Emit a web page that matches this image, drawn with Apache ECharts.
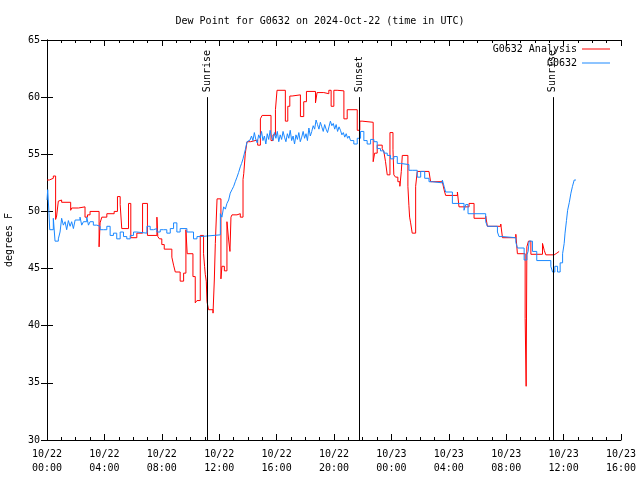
<!DOCTYPE html>
<html><head><meta charset="utf-8">
<script src="https://cdn.jsdelivr.net/npm/echarts@6/dist/echarts.min.js"></script>
<style>html,body{margin:0;padding:0;background:#fff}#c{width:640px;height:480px}</style>
</head><body><div id="c"></div>
<script>
// hours since 2024-10-22 00:00 UTC
const redT = [0.00,0.16,0.44,0.60,0.67,0.79,0.91,1.02,1.65,1.72,2.19,2.65,2.82,3.00,3.63,3.70,3.82,4.17,4.68,4.91,5.10,5.21,5.68,5.84,6.26,6.66,7.00,7.66,7.72,7.84,8.00,8.17,8.70,8.82,8.94,9.28,9.52,9.68,9.77,10.17,10.33,10.45,10.68,10.91,10.98,11.03,11.10,11.15,11.26,11.57,11.66,11.73,11.85,12.12,12.19,12.36,12.54,12.66,12.75,12.82,12.89,13.24,13.47,13.66,13.71,13.82,13.94,14.17,14.68,14.87,14.99,15.61,15.75,15.92,16.03,16.61,16.78,16.92,17.08,17.66,17.89,18.08,18.71,18.82,19.29,19.64,19.80,19.99,20.22,20.69,20.92,21.62,21.80,21.96,22.73,22.83,23.01,23.36,23.48,23.59,23.71,23.90,24.11,24.17,24.29,24.45,24.59,24.69,24.76,25.15,25.22,25.27,25.34,25.45,25.69,25.80,26.62,26.73,27.55,27.67,27.78,28.60,28.71,29.41,29.76,30.57,30.69,31.62,31.74,32.67,32.78,33.32,33.39,33.44,33.55,33.72,34.53,34.65,34.76,35.34,35.53,35.69];
const redV = [52.75,52.9,53.1,49.3,49.6,50.9,51.0,50.8,50.1,50.3,50.4,49.5,49.7,50.0,46.9,49.0,49.5,49.8,50.0,51.3,50.6,48.5,50.7,47.7,48.1,50.7,47.9,49.5,47.8,47.6,47.1,46.7,46.0,45.3,44.7,43.9,44.6,48.4,46.3,44.3,42.0,42.2,47.9,46.3,45.2,44.5,43.9,42.1,41.4,41.1,44.0,47.2,51.1,44.1,45.2,44.8,49.1,47.5,46.5,49.5,49.7,49.8,49.5,52.8,53.3,55.1,56.1,56.25,55.8,58.1,58.4,56.2,56.7,58.9,60.6,57.9,59.2,60.1,60.2,58.3,59.6,60.5,59.5,60.4,60.3,60.6,59.2,60.6,60.55,58.1,58.9,57.1,57.9,57.8,54.35,55.1,55.8,55.5,55.2,54.35,53.2,56.9,55.4,53.2,53.0,52.6,52.2,53.5,54.9,52.2,50.5,49.5,49.0,48.1,52.2,53.5,53.6,52.6,52.75,51.9,51.4,51.7,50.4,50.7,49.4,49.6,48.7,48.9,47.7,48.0,46.3,40.65,34.7,46.9,47.4,46.25,47.2,46.6,46.2,46.35,46.5,46.5];
const blueT = [0.00,0.05,0.14,0.19,0.44,0.56,0.79,0.91,1.02,1.14,1.26,1.37,1.49,1.61,1.72,1.84,1.96,2.30,2.42,2.54,2.77,2.89,3.00,3.23,3.47,3.70,3.93,4.17,4.40,4.63,4.86,5.10,5.33,5.56,5.80,6.03,6.26,6.96,7.19,7.42,7.66,7.89,8.12,8.35,8.59,8.82,9.05,9.28,9.75,10.21,10.45,10.68,11.15,12.08,12.19,12.31,12.43,12.54,12.66,12.77,12.89,13.01,13.12,13.24,13.35,13.47,13.56,13.66,13.74,13.82,13.94,14.05,14.15,14.25,14.35,14.45,14.55,14.65,14.75,14.85,14.95,15.05,15.15,15.25,15.35,15.45,15.55,15.65,15.75,15.85,15.95,16.05,16.15,16.25,16.35,16.45,16.55,16.65,16.75,16.85,16.95,17.05,17.15,17.25,17.35,17.45,17.55,17.65,17.75,17.85,17.95,18.05,18.15,18.25,18.35,18.45,18.55,18.65,18.75,18.85,18.95,19.05,19.15,19.25,19.35,19.45,19.55,19.65,19.75,19.85,19.95,20.05,20.15,20.25,20.35,20.45,20.55,20.65,20.75,20.85,20.95,21.05,21.15,21.38,21.62,21.85,22.08,22.31,22.55,22.78,23.01,23.24,23.48,23.71,23.94,24.17,24.41,24.64,25.22,25.45,25.80,26.04,26.32,26.62,26.85,27.55,27.67,27.78,28.25,29.06,29.18,29.34,30.57,30.69,31.39,31.50,31.74,32.67,32.78,33.25,33.44,33.53,33.60,33.83,34.13,35.11,35.23,35.39,35.58,35.76,35.93,36.04,36.10,36.20,36.28,36.40,36.51,36.62,36.74,36.86];
const blueV = [51.0,51.9,49.8,48.4,49.4,47.4,47.6,48.2,49.4,48.8,49.1,48.4,49.2,48.7,49.1,48.5,49.25,49.5,48.8,49.1,49.5,48.8,49.1,48.8,48.7,48.4,48.4,48.7,47.9,48.1,47.6,48.2,47.8,47.6,47.9,48.2,48.1,48.7,48.4,48.5,48.2,48.4,48.4,48.1,48.5,49.0,48.2,48.5,48.2,47.6,47.8,47.85,47.95,49.8,49.5,50.4,50.2,50.7,51.0,51.6,51.9,52.2,52.6,53.0,53.4,53.9,54.2,54.6,55.0,55.4,56.1,56.25,56.1,56.6,56.2,56.9,56.3,56.0,56.7,56.4,57.0,56.2,56.6,55.9,56.8,56.3,57.1,56.5,56.2,56.9,56.4,57.0,56.1,56.7,56.3,57.0,56.5,56.1,56.8,56.4,57.1,56.2,56.6,55.9,56.7,56.3,56.9,56.1,56.5,57.0,56.4,56.8,56.2,57.3,56.6,57.0,57.5,57.2,58.0,57.6,57.2,57.8,57.4,57.0,57.6,57.2,56.9,57.4,57.9,57.5,57.7,57.2,57.6,57.0,57.4,57.1,56.7,56.9,56.5,56.8,56.4,56.6,56.2,55.9,56.4,57.0,56.2,55.9,56.3,56.1,55.5,55.3,55.1,54.9,54.6,54.8,54.2,54.1,53.6,53.6,53.0,53.5,52.9,52.6,52.5,52.75,52.2,51.7,50.7,50.1,50.6,49.8,49.1,48.7,48.2,47.8,47.7,47.3,46.8,45.75,46.2,46.5,47.4,46.5,45.7,45.2,44.7,45.2,44.7,45.5,46.3,47.2,48.1,49.2,50.1,50.8,51.6,52.2,52.75,52.75];
const eventT = [11.17, 21.78, 35.25];
const eventLabels = ['Sunrise', 'Sunset', 'Sunrise'];
const eventTop = 60;
const dayLabels = ['10/22', '10/23'];
const seriesNames = ['G0632 Analysis', 'G0632'];

const FONT = 'DejaVu Sans Mono';
const zip = (a, b) => a.map((t, i) => [t, b[i]]);
const xFmt = v => {
  const d = Math.floor(v / 24 + 1e-9);
  const h = Math.round(v - d * 24);
  return dayLabels[d] + '\n' + String(h).padStart(2, '0') + ':00';
};
const chart = echarts.init(document.getElementById('c'), null, {renderer: 'canvas'});
const axisCommon = {
  axisLine: {show: true, lineStyle: {color: '#000', width: 1}},
  axisTick: {show: true, inside: true, length: 6, lineStyle: {color: '#000'}},
  splitLine: {show: false}
};
chart.setOption({
  animation: false,
  backgroundColor: '#fff',
  textStyle: {fontFamily: FONT},
  title: {text: 'Dew Point for G0632 on 2024-Oct-22 (time in UTC)', left: 'center', top: 11,
    textStyle: {fontFamily: FONT, fontSize: 10, fontWeight: 'normal', color: '#000'}},
  legend: [
    {data: [seriesNames[0]], right: 25, top: 39, orient: 'vertical', align: 'right', icon: 'rect', itemWidth: 28, itemHeight: 1, itemGap: 4,
      textStyle: {fontFamily: FONT, fontSize: 10, color: '#000'}},
    {data: [seriesNames[1]], right: 25, top: 53, orient: 'vertical', align: 'right', icon: 'rect', itemWidth: 28, itemHeight: 1, itemGap: 4,
      textStyle: {fontFamily: FONT, fontSize: 10, color: '#000'}}
  ],
  grid: {left: 47, right: 19, top: 40, bottom: 40, containLabel: false, outerBoundsMode: 'none'},
  xAxis: [
    Object.assign({type: 'value', min: 0, max: 40, interval: 4, position: 'bottom',
      minorTick: {show: true, splitNumber: 4, length: 3, lineStyle: {color: '#000'}},
      axisLabel: {formatter: xFmt, fontFamily: FONT, fontSize: 10, color: '#000', lineHeight: 14, margin: 7}}, axisCommon),
    Object.assign({type: 'value', min: 0, max: 40, interval: 4, position: 'top',
      minorTick: {show: true, splitNumber: 4, length: 3, lineStyle: {color: '#000'}},
      axisLabel: {show: false}}, axisCommon)
  ],
  yAxis: [
    Object.assign({type: 'value', min: 30, max: 65, interval: 5, position: 'left',
      name: 'degrees F', nameLocation: 'middle', nameGap: 33,
      nameTextStyle: {fontFamily: FONT, fontSize: 10, color: '#000'},
      axisLabel: {fontFamily: FONT, fontSize: 10, color: '#000', margin: 7}}, axisCommon),
    Object.assign({type: 'value', min: 30, max: 65, interval: 5, position: 'right',
      axisLabel: {show: false}}, axisCommon)
  ],
  series: [
    {name: seriesNames[0], type: 'line', step: 'end', showSymbol: false, symbol: 'none',
      data: zip(redT, redV), color: '#ff0000', lineStyle: {width: 1, color: '#ff0000'},
      markLine: {silent: true, symbol: 'none', label: {show: false},
        lineStyle: {color: '#000', width: 1, type: 'solid'},
        data: eventT.map(t => [{coord: [t, 30]}, {coord: [t, eventTop]}])}},
    {name: seriesNames[1], type: 'line', step: 'end', showSymbol: false, symbol: 'none',
      data: zip(blueT, blueV), color: '#1a88ff', lineStyle: {width: 1, color: '#1a88ff'}}
  ]
});
const g = eventT.map((t, i) => {
  const p = chart.convertToPixel({xAxisIndex: 0, yAxisIndex: 0}, [t, eventTop]);
  return {type: 'text', x: p[0], y: p[1] - 5, rotation: Math.PI / 2, z: 100,
    style: {text: eventLabels[i], x: 0, y: 0, align: 'left', verticalAlign: 'middle',
      font: '10px ' + FONT, fill: '#000'}};
});
chart.setOption({graphic: g});
</script></body></html>
